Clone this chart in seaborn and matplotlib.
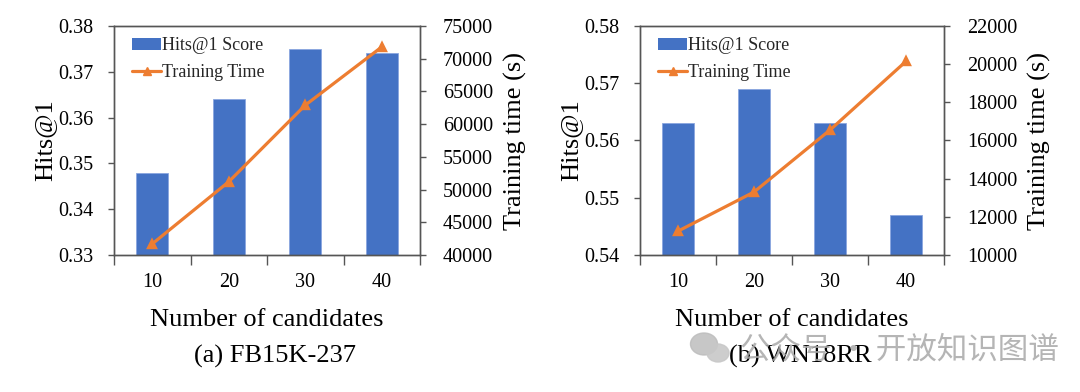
import matplotlib
matplotlib.use("Agg")
import matplotlib.pyplot as plt
import seaborn as sns
import numpy as np
from matplotlib.patches import Ellipse
from matplotlib.lines import Line2D

# ---- data ----
candidates = ["10", "20", "30", "40"]
fb_hits = [0.348, 0.364, 0.375, 0.374]
fb_time = [41700, 51200, 62900, 71800]
wn_hits = [0.563, 0.569, 0.563, 0.547]
wn_time = [11250, 13300, 16550, 20150]
fb_hits_ticks = [0.33, 0.34, 0.35, 0.36, 0.37, 0.38]
fb_time_ticks = [40000, 45000, 50000, 55000, 60000, 65000, 70000, 75000]
wn_hits_ticks = [0.54, 0.55, 0.56, 0.57, 0.58]
wn_time_ticks = [10000, 12000, 14000, 16000, 18000, 20000, 22000]
captions = ["(a) FB15K-237", "(b) WN18RR"]
watermark = "公众号 · 开放知识图谱"

sns.set_theme(style="white")
plt.rcParams["font.family"] = ["Liberation Serif", "DejaVu Serif"]

BLUE = "#4472C4"
ORANGE = "#ED7D31"
SPINE = "#555555"

fig = plt.figure(figsize=(10.8, 3.92), dpi=100)

panels = [
    (114, 306, fb_hits, fb_time, fb_hits_ticks, fb_time_ticks, captions[0]),
    (640, 304, wn_hits, wn_time, wn_hits_ticks, wn_time_ticks, captions[1]),
]

W, H = 1080, 392
top_px, bot_px = 26, 255

for (lx, w, hits, times, hticks, tticks, cap) in panels:
    ax = fig.add_axes([lx / W, (H - bot_px) / H, w / W, (bot_px - top_px) / H])
    sns.barplot(x=candidates, y=hits, color=BLUE, width=0.42, ax=ax,
                edgecolor="#8aa6df", linewidth=0.6, saturation=1)
    ax.set_ylim(hticks[0], hticks[-1])
    ax.set_yticks(hticks)
    ax.set_yticklabels([f"{t:.2f}" for t in hticks])
    ax.set_xlim(-0.5, len(candidates) - 0.5)

    ax2 = ax.twinx()
    sns.pointplot(x=candidates, y=times, color=ORANGE, markers="^",
                  linestyles="-", ax=ax2, markersize=6, linewidth=2.3)
    ax2.set_ylim(tticks[0], tticks[-1])
    ax2.set_yticks(tticks)
    ax2.set_yticklabels([str(t) for t in tticks])
    ax2.set_xlim(-0.5, len(candidates) - 0.5)

    for a in (ax, ax2):
        for s in a.spines.values():
            s.set_visible(True)
            s.set_color(SPINE)
            s.set_linewidth(1.0)

    # x ticks: labels at centers (no mark), marks at category boundaries
    ax.tick_params(axis="x", which="major", length=0, pad=13, labelsize=14.5,
                   colors="black")
    ax.set_xticks(np.arange(-0.5, len(candidates)), minor=True)
    ax.tick_params(axis="x", which="minor", length=7, width=1.0, color=SPINE,
                   bottom=True, direction="out")
    ax.tick_params(axis="y", which="major", length=4.5, width=1.0, color=SPINE,
                   left=True, direction="out", pad=10, labelsize=14.5,
                   labelcolor="black")
    ax2.tick_params(axis="y", which="major", length=4.5, width=1.0, color=SPINE,
                    right=True, direction="out", pad=12, labelsize=14.5,
                    labelcolor="black")

    ax.set_xlabel("Number of candidates", fontsize=19, labelpad=12, color="black")
    ax.set_ylabel("Hits@1", fontsize=19, labelpad=2, color="black")
    ax2.set_ylabel("Training time (s)", fontsize=19, labelpad=8, color="black")

    ax.set_zorder(1)
    ax2.set_zorder(2)
    ax2.patch.set_visible(False)

    bar_handle = matplotlib.patches.Patch(facecolor=BLUE, edgecolor="none")
    line_handle = Line2D([], [], color=ORANGE, lw=2.3, marker="^", markersize=6)
    ax2.legend([bar_handle, line_handle], ["Hits@1 Score", "Training Time"],
               loc="upper left", bbox_to_anchor=(0.03, 0.99), frameon=False,
               fontsize=13, borderpad=0, handlelength=1.6, handleheight=0.6,
               handletextpad=0.05, labelspacing=0.55)

    cx = (lx + w / 2 + 8) / W
    fig.text(cx, 1 - 356 / H, cap, ha="center", va="center", fontsize=19,
             color="black")

# watermark
fig.text(740 / W, 1 - 350 / H, watermark, ha="left", va="center", fontsize=22,
         color="#a8a8a8", alpha=0.85,
         family=["Noto Sans CJK SC", "DejaVu Sans"], zorder=10)
fig.patches.append(Ellipse((704 / W, 1 - 344 / H), 27 / W, 22 / H,
                           transform=fig.transFigure, color="#bdbdbd",
                           alpha=0.85, zorder=10))
fig.patches.append(Ellipse((718 / W, 1 - 353 / H), 22 / W, 18 / H,
                           transform=fig.transFigure, color="#c8c8c8",
                           alpha=0.9, zorder=11))

fig.savefig("out.png", dpi=100, facecolor="white")
